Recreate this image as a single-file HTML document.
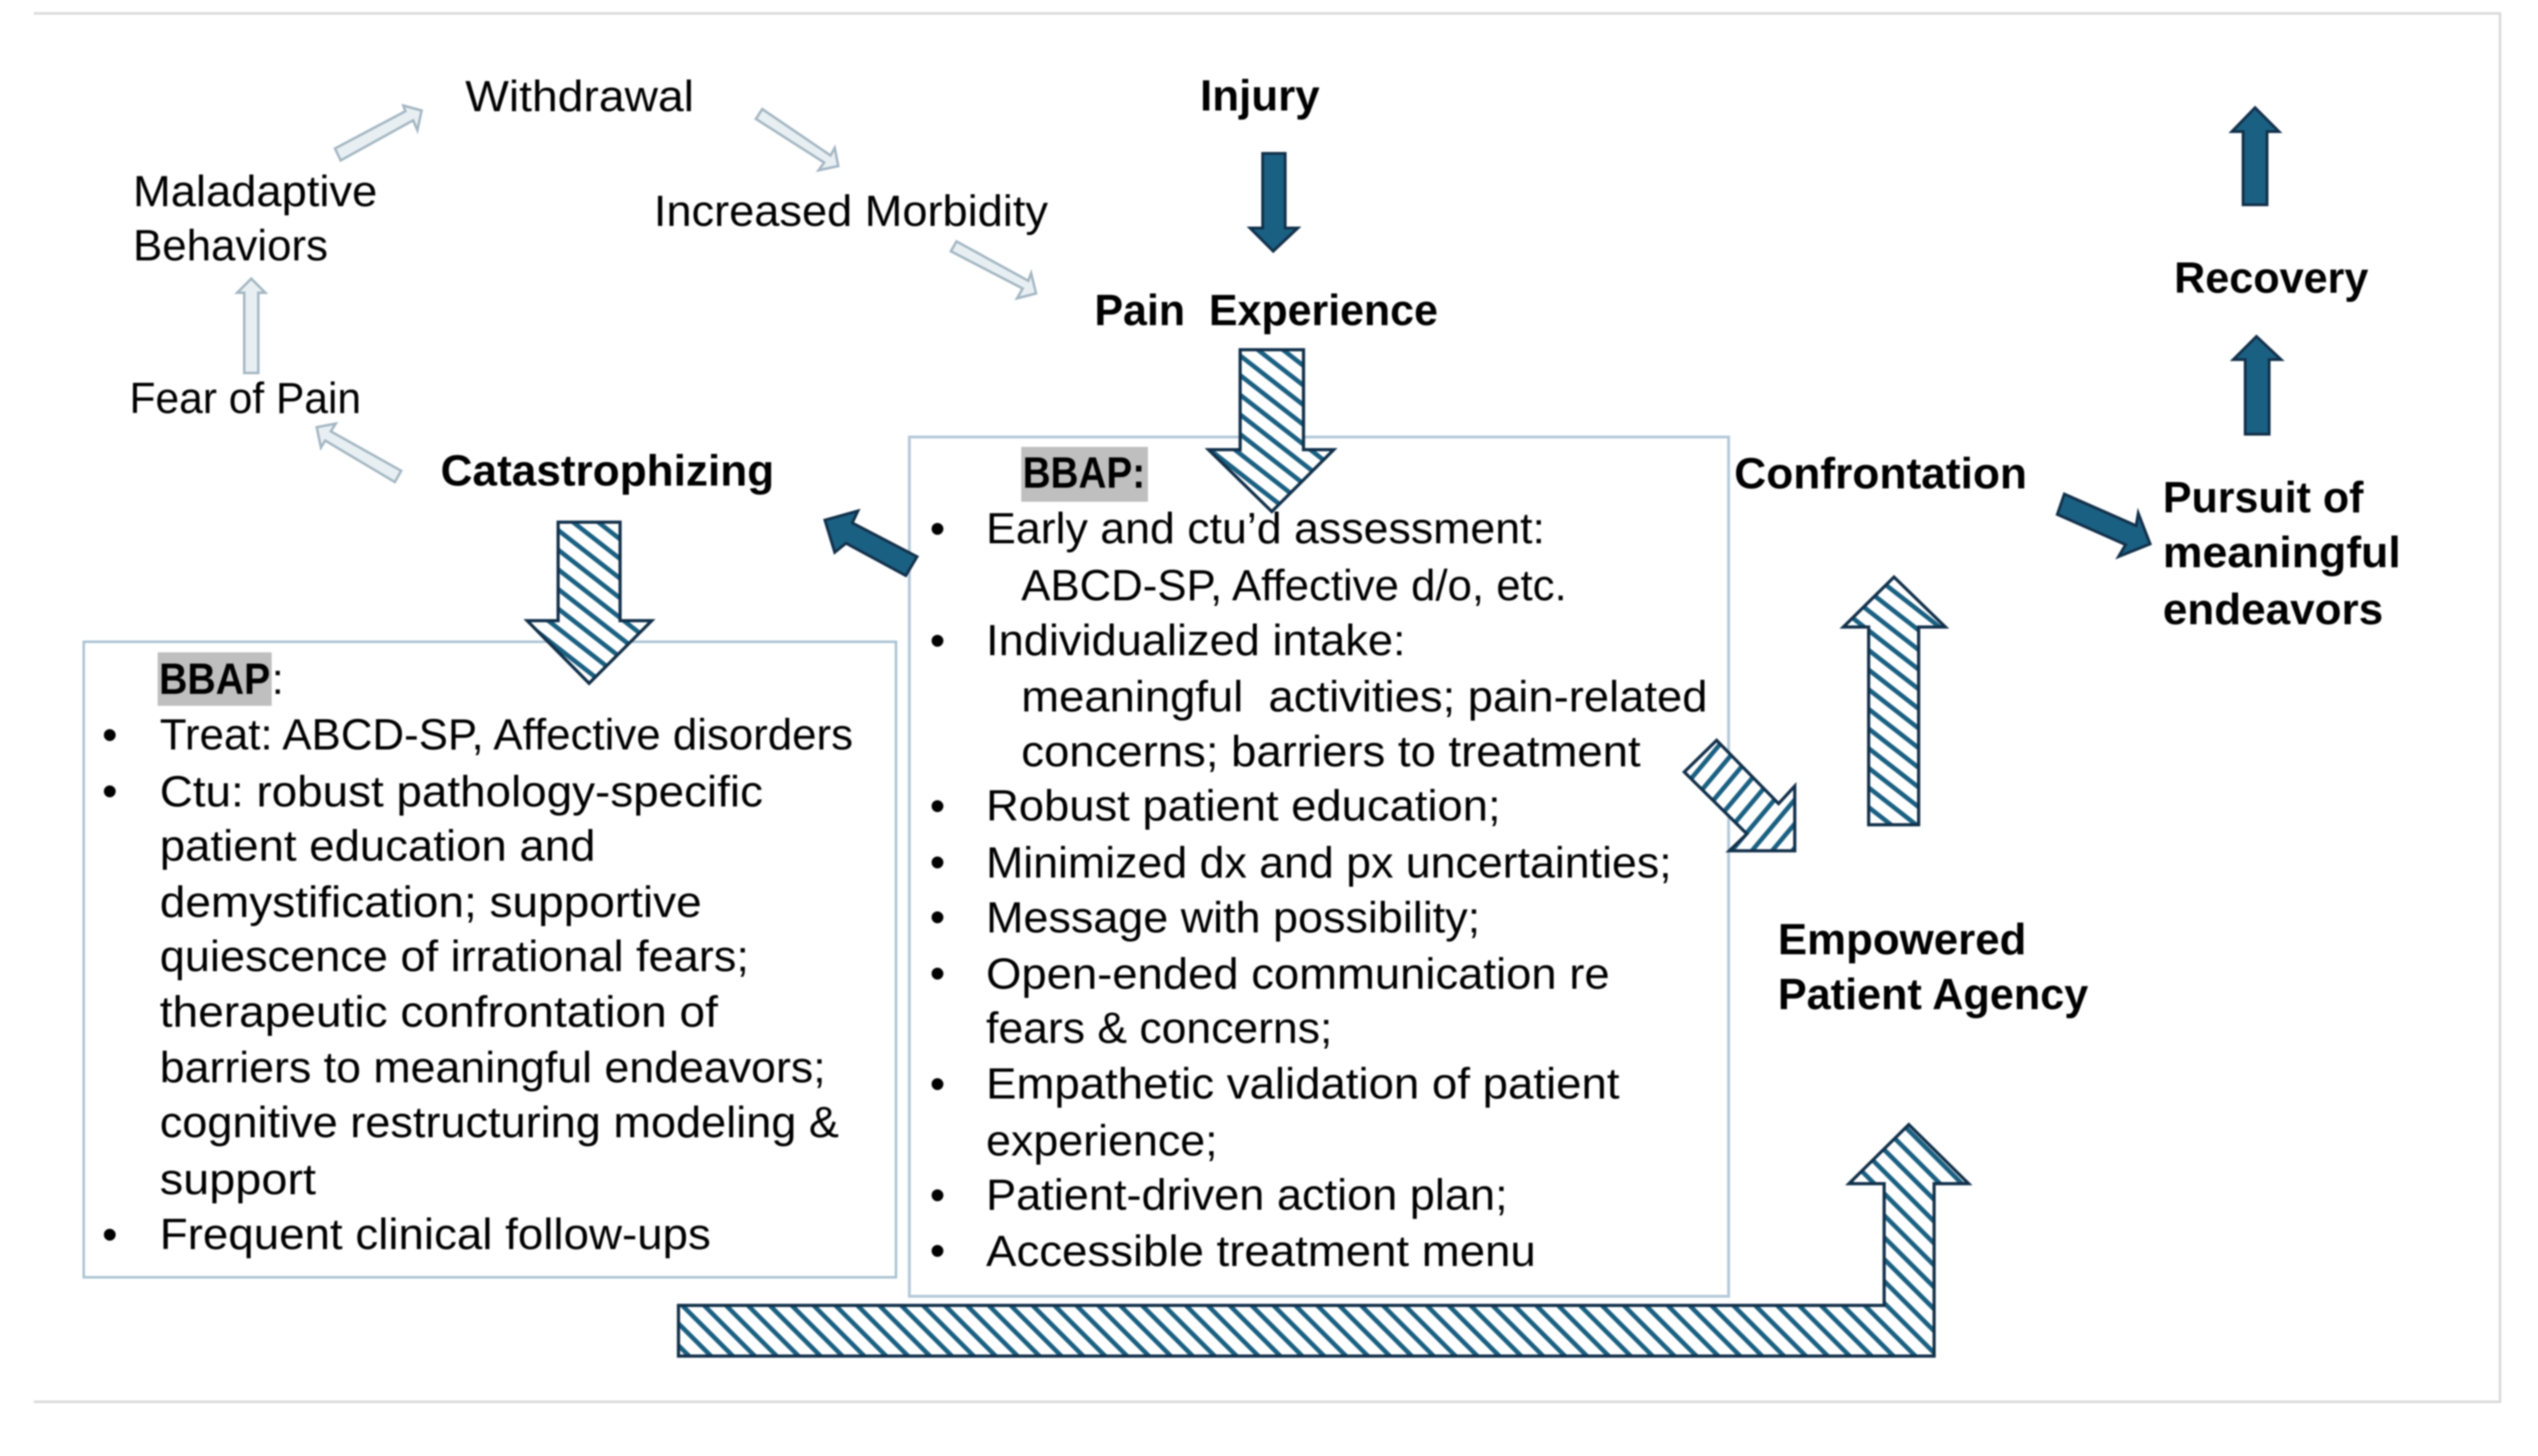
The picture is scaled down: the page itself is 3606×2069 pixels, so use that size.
<!DOCTYPE html>
<html>
<head>
<meta charset="utf-8">
<title>BBAP diagram</title>
<style>
html,body{margin:0;padding:0;background:#fff;}
svg{display:block;filter:blur(1px);}
text{font-family:"Liberation Sans",sans-serif;font-size:62px;fill:#000;white-space:pre;}
.b{font-weight:bold;}
.bu{text-anchor:middle;}
.h{stroke:#12304a;stroke-width:4.5;stroke-linejoin:miter;}
.s{fill:#1a6082;stroke:#12304a;stroke-width:4;}
.l{fill:#e8eff3;stroke:#a3b6c2;stroke-width:3.5;}
</style>
</head>
<body>
<svg width="3606" height="2069" viewBox="0 0 3606 2069" xmlns="http://www.w3.org/2000/svg">
<defs>
<pattern id="p1" width="22" height="22" patternUnits="userSpaceOnUse" patternTransform="rotate(38 1807 497)">
<rect width="22" height="22" fill="#fff"/><rect y="0" width="22" height="6.5" fill="#1a6082"/>
</pattern>
<pattern id="p2" width="22" height="22" patternUnits="userSpaceOnUse" patternTransform="rotate(45 964 1855)">
<rect width="22" height="22" fill="#fff"/><rect y="0" width="22" height="6.5" fill="#1a6082"/>
</pattern>
<pattern id="p3" width="22" height="22" patternUnits="userSpaceOnUse" patternTransform="rotate(-50 2439 1052)">
<rect width="22" height="22" fill="#fff"/><rect y="0" width="22" height="6.5" fill="#1a6082"/>
</pattern>
</defs>
<rect width="3606" height="2069" fill="#fff"/>

<!-- frame -->
<path d="M48 19H3552V1992H48" fill="none" stroke="#d9d9d9" stroke-width="3.5"/>

<!-- boxes -->
<rect x="119" y="912" width="1154" height="903" fill="#fff" stroke="#a9c2d2" stroke-width="3.5"/>
<rect x="1292" y="621" width="1164" height="1221" fill="#fff" stroke="#b3c8d8" stroke-width="4"/>

<!-- highlights -->
<rect x="224" y="927" width="162" height="76" fill="#bfbfbf"/>
<rect x="1451" y="635" width="180" height="78" fill="#bfbfbf"/>

<!-- light arrows -->
<polygon class="l" points="476,211 576,158 573,150 599,157 593,185 587,171 484,228"/>
<polygon class="l" points="1083,155 1180,221 1186,210 1191,236 1163,242 1171,231 1074,169"/>
<polygon class="l" points="1359,343 1461,399 1465,388 1472,417 1445,424 1453,410 1351,357"/>
<polygon class="l" points="347,530 367,530 367,416 377,416 357,396 337,416 347,416"/>
<polygon class="l" points="570,669 470,613 477,602 450,607 456,636 462,626 561,685"/>

<!-- solid arrows -->
<polygon class="s" points="1794,218 1826,218 1826,324 1844,324 1809,357 1776,324 1794,324"/>
<polygon class="s" points="3187,291 3221,291 3221,187 3238,187 3204,153 3171,187 3187,187"/>
<polygon class="s" points="3190,617 3224,617 3224,511 3241,511 3206,478 3173,511 3190,511"/>
<polygon class="s" points="2933,702 3035,747 3038,729 3055,773 3010,791 3020,774 2923,731"/>
<polygon class="s" points="1172,739 1219,726 1211,743 1303,791 1287,818 1202,772 1186,785"/>

<!-- hatched arrows -->
<polygon class="h" fill="url(#p1)" points="793,742 881,742 881,882 926,882 837,971 749,882 793,882"/>
<polygon class="h" fill="url(#p1)" points="1762,497 1852,497 1852,639 1895,639 1807,727 1717,639 1762,639"/>
<polygon class="h" fill="url(#p1)" points="2655,1172 2726,1172 2726,891 2764,891 2691,820 2619,891 2655,891"/>
<polygon class="h" fill="url(#p3)" points="2439,1052 2393,1097 2482,1185 2457,1209 2550,1209 2550,1117 2527,1142"/>
<polygon class="h" fill="url(#p2)" points="964,1855 2677,1855 2677,1682 2627,1682 2712,1598 2797,1682 2748,1682 2748,1927 964,1927"/>

<!-- cycle labels -->
<text x="661" y="158" textLength="325" lengthAdjust="spacingAndGlyphs">Withdrawal</text>
<text x="189" y="293" textLength="347" lengthAdjust="spacingAndGlyphs">Maladaptive</text>
<text x="189" y="370" textLength="277" lengthAdjust="spacingAndGlyphs">Behaviors</text>
<text x="184" y="587" textLength="329" lengthAdjust="spacingAndGlyphs">Fear of Pain</text>
<text x="929" y="321" textLength="560" lengthAdjust="spacingAndGlyphs">Increased Morbidity</text>

<!-- bold labels -->
<text class="b" x="626" y="690" textLength="474" lengthAdjust="spacingAndGlyphs">Catastrophizing</text>
<text class="b" x="1705" y="157" textLength="170" lengthAdjust="spacingAndGlyphs">Injury</text>
<text class="b" x="1555" y="462" textLength="488" lengthAdjust="spacingAndGlyphs">Pain  Experience</text>
<text class="b" x="2464" y="694" textLength="416" lengthAdjust="spacingAndGlyphs">Confrontation</text>
<text class="b" x="3089" y="416" textLength="276" lengthAdjust="spacingAndGlyphs">Recovery</text>
<text class="b" x="3073" y="728" textLength="285" lengthAdjust="spacingAndGlyphs">Pursuit of</text>
<text class="b" x="3073" y="806" textLength="338" lengthAdjust="spacingAndGlyphs">meaningful</text>
<text class="b" x="3073" y="887" textLength="313" lengthAdjust="spacingAndGlyphs">endeavors</text>
<text class="b" x="2526" y="1356" textLength="353" lengthAdjust="spacingAndGlyphs">Empowered</text>
<text class="b" x="2526" y="1434" textLength="441" lengthAdjust="spacingAndGlyphs">Patient Agency</text>

<!-- left box -->
<text class="b" x="226" y="986" textLength="158" lengthAdjust="spacingAndGlyphs">BBAP</text>
<text x="386" y="986">:</text>
<text class="bu" x="156" y="1065">•</text>
<text x="227" y="1065" textLength="985" lengthAdjust="spacingAndGlyphs">Treat: ABCD-SP, Affective disorders</text>
<text class="bu" x="156" y="1145">•</text>
<text x="227" y="1146" textLength="857" lengthAdjust="spacingAndGlyphs">Ctu: robust pathology-specific</text>
<text x="227" y="1223" textLength="619" lengthAdjust="spacingAndGlyphs">patient education and</text>
<text x="227" y="1303" textLength="770" lengthAdjust="spacingAndGlyphs">demystification; supportive</text>
<text x="227" y="1380" textLength="837" lengthAdjust="spacingAndGlyphs">quiescence of irrational fears;</text>
<text x="227" y="1459" textLength="793" lengthAdjust="spacingAndGlyphs">therapeutic confrontation of</text>
<text x="227" y="1538" textLength="946" lengthAdjust="spacingAndGlyphs">barriers to meaningful endeavors;</text>
<text x="227" y="1616" textLength="965" lengthAdjust="spacingAndGlyphs">cognitive restructuring modeling &amp;</text>
<text x="227" y="1697" textLength="222" lengthAdjust="spacingAndGlyphs">support</text>
<text class="bu" x="156" y="1775">•</text>
<text x="227" y="1775" textLength="783" lengthAdjust="spacingAndGlyphs">Frequent clinical follow-ups</text>

<!-- center box -->
<text class="b" x="1453" y="693" textLength="174" lengthAdjust="spacingAndGlyphs">BBAP:</text>
<text class="bu" x="1332" y="772">•</text>
<text x="1401" y="772" textLength="794" lengthAdjust="spacingAndGlyphs">Early and ctu’d assessment:</text>
<text x="1451" y="853" textLength="775" lengthAdjust="spacingAndGlyphs">ABCD-SP, Affective d/o, etc.</text>
<text class="bu" x="1332" y="931">•</text>
<text x="1401" y="931" textLength="596" lengthAdjust="spacingAndGlyphs">Individualized intake:</text>
<text x="1451" y="1011" textLength="975" lengthAdjust="spacingAndGlyphs">meaningful  activities; pain-related</text>
<text x="1451" y="1089" textLength="880" lengthAdjust="spacingAndGlyphs">concerns; barriers to treatment</text>
<text class="bu" x="1332" y="1166">•</text>
<text x="1401" y="1166" textLength="731" lengthAdjust="spacingAndGlyphs">Robust patient education;</text>
<text class="bu" x="1332" y="1246">•</text>
<text x="1401" y="1247" textLength="974" lengthAdjust="spacingAndGlyphs">Minimized dx and px uncertainties;</text>
<text class="bu" x="1332" y="1324">•</text>
<text x="1401" y="1325" textLength="702" lengthAdjust="spacingAndGlyphs">Message with possibility;</text>
<text class="bu" x="1332" y="1404">•</text>
<text x="1401" y="1405" textLength="886" lengthAdjust="spacingAndGlyphs">Open-ended communication re</text>
<text x="1401" y="1482" textLength="492" lengthAdjust="spacingAndGlyphs">fears &amp; concerns;</text>
<text class="bu" x="1332" y="1561">•</text>
<text x="1401" y="1561" textLength="900" lengthAdjust="spacingAndGlyphs">Empathetic validation of patient</text>
<text x="1401" y="1642" textLength="329" lengthAdjust="spacingAndGlyphs">experience;</text>
<text class="bu" x="1332" y="1719">•</text>
<text x="1401" y="1719" textLength="741" lengthAdjust="spacingAndGlyphs">Patient-driven action plan;</text>
<text class="bu" x="1332" y="1798">•</text>
<text x="1401" y="1799" textLength="781" lengthAdjust="spacingAndGlyphs">Accessible treatment menu</text>
</svg>
</body>
</html>
